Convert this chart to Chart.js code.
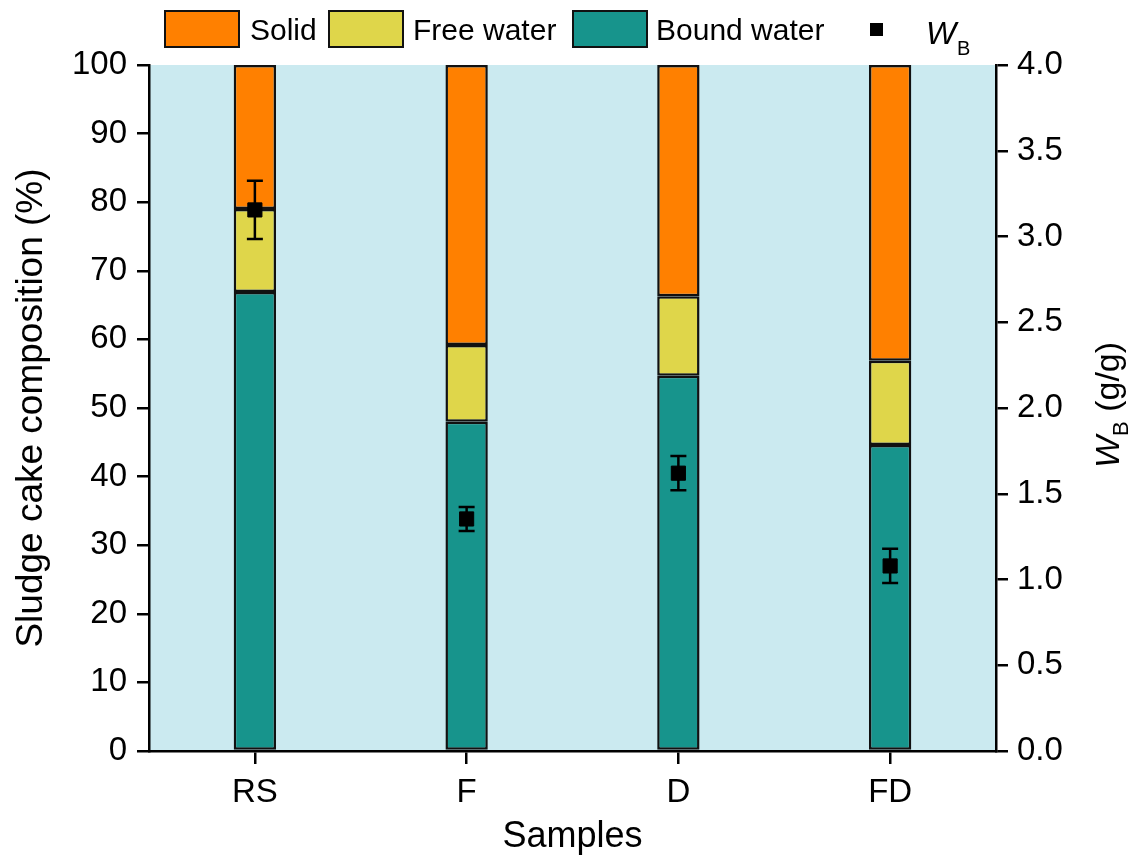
<!DOCTYPE html>
<html>
<head>
<meta charset="utf-8">
<title>Sludge cake composition</title>
<script src="https://cdn.jsdelivr.net/npm/chart.js@4.4.1/dist/chart.umd.min.js"></script>
<style>
  html, body { margin: 0; padding: 0; background: #fff; }
  #wrap { width: 1142px; height: 859px; }
</style>
</head>
<body>
<div id="wrap"><canvas id="grafico" width="1142" height="859"></canvas></div>
<script>
const categories = ["RS", "F", "D", "FD"];
const boundWater = [66.9, 48.0, 54.7, 44.6];
const freeWater = [12.1, 11.2, 11.6, 12.3];
const solid = [21.0, 40.8, 33.7, 43.1];
const wB = [3.155, 1.353, 1.62, 1.079];
const wBErr = [0.17, 0.07, 0.10, 0.10];
const leftTicks = [0, 10, 20, 30, 40, 50, 60, 70, 80, 90, 100];
const rightTicks = [0, 0.5, 1, 1.5, 2, 2.5, 3, 3.5, 4];

const FONT = "'Liberation Sans', Arial, sans-serif";
const colSolid = "#ff8000";
const colFree = "#dfd64a";
const colBound = "#17948c";
const colBg = "#cbeaf0";

// fondo del área de gráfico
const fondo = {
  id: "fondo",
  beforeDraw(chart) {
    const { ctx, chartArea: a } = chart;
    ctx.save();
    ctx.fillStyle = colBg;
    ctx.fillRect(a.left, a.top, a.right - a.left, a.bottom - a.top);
    ctx.restore();
  }
};

// barras de error para W_B
const errores = {
  id: "errores",
  afterDatasetsDraw(chart) {
    const { ctx } = chart;
    const x = chart.scales.x, y1 = chart.scales.y1;
    ctx.save();
    ctx.strokeStyle = "#000";
    ctx.lineWidth = 2.5;
    wB.forEach((v, i) => {
      const px = x.getPixelForValue(i);
      const top = y1.getPixelForValue(v + wBErr[i]);
      const bot = y1.getPixelForValue(v - wBErr[i]);
      ctx.beginPath();
      ctx.moveTo(px, top); ctx.lineTo(px, bot);
      ctx.moveTo(px - 8, top); ctx.lineTo(px + 8, top);
      ctx.moveTo(px - 8, bot); ctx.lineTo(px + 8, bot);
      ctx.stroke();
    });
    ctx.restore();
  }
};

// leyenda y título del eje derecho (con subíndice)
const extras = {
  id: "extras",
  afterDraw(chart) {
    const { ctx } = chart;
    ctx.save();
    ctx.textBaseline = "alphabetic";
    ctx.font = "30px " + FONT;
    ctx.fillStyle = "#000";
    const items = [
      { box: 165, text: 250, color: colSolid, label: "Solid" },
      { box: 329, text: 413, color: colFree, label: "Free water" },
      { box: 573, text: 656, color: colBound, label: "Bound water" }
    ];
    items.forEach(it => {
      ctx.fillStyle = it.color;
      ctx.fillRect(it.box, 11, 74, 36);
      ctx.strokeStyle = "#111";
      ctx.lineWidth = 2;
      ctx.strokeRect(it.box, 11, 74, 36);
      ctx.fillStyle = "#000";
      ctx.fillText(it.label, it.text, 40);
    });
    ctx.fillRect(870, 23, 13, 13);
    ctx.font = "italic 32px " + FONT;
    ctx.fillText("W", 926, 44);
    ctx.font = "20px " + FONT;
    ctx.fillText("B", 957, 55);

    // título eje derecho
    ctx.translate(1110, 405);
    ctx.rotate(-Math.PI / 2);
    ctx.textBaseline = "middle";
    const partW = "W", partB = "B", partU = " (g/g)";
    ctx.font = "italic 34px " + FONT;
    const wW = ctx.measureText(partW).width;
    ctx.font = "22px " + FONT;
    const wBw = ctx.measureText(partB).width;
    ctx.font = "34px " + FONT;
    const wU = ctx.measureText(partU).width;
    let sx = -(wW + wBw + wU) / 2;
    ctx.font = "italic 34px " + FONT;
    ctx.fillText(partW, sx, 0);
    sx += wW;
    ctx.font = "22px " + FONT;
    ctx.fillText(partB, sx, 12);
    sx += wBw;
    ctx.font = "34px " + FONT;
    ctx.fillText(partU, sx, 0);
    ctx.restore();
  }
};

const ctx = document.getElementById("grafico").getContext("2d");
const barBase = {
  type: "bar",
  yAxisID: "y",
  borderColor: "#111",
  borderWidth: 2.5,
  borderSkipped: false,
  barPercentage: 0.2,
  categoryPercentage: 1,
  order: 1
};

const chart = new Chart(ctx, {
  data: {
    labels: categories,
    datasets: [
      {
        type: "line",
        label: "WB",
        data: wB,
        yAxisID: "y1",
        showLine: false,
        pointStyle: "rect",
        pointRadius: 10,
        pointBackgroundColor: "#000",
        pointBorderColor: "#000",
        pointBorderWidth: 1,
        order: 0
      },
      Object.assign({}, barBase, { label: "Bound water", data: boundWater, backgroundColor: colBound }),
      Object.assign({}, barBase, { label: "Free water", data: freeWater, backgroundColor: colFree }),
      Object.assign({}, barBase, { label: "Solid", data: solid, backgroundColor: colSolid })
    ]
  },
  options: {
    responsive: false,
    animation: false,
    layout: { padding: { top: 65, left: 0, right: 0, bottom: 0 } },
    plugins: { legend: { display: false }, tooltip: { enabled: false } },
    scales: {
      x: {
        stacked: true,
        offset: true,
        afterFit: s => { s.height = 108; },
        grid: { offset: false, drawOnChartArea: false, drawTicks: true, tickLength: 13, color: "#000", lineWidth: 2.5 },
        border: { display: true, color: "#000", width: 2.5 },
        ticks: { color: "#000", font: { family: FONT, size: 33 }, padding: 9 },
        title: { display: true, text: "Samples", color: "#000", font: { family: FONT, size: 36 }, padding: { top: 0, bottom: 0 } }
      },
      y: {
        stacked: true,
        position: "left",
        min: 0,
        max: 100,
        afterFit: s => { s.width = 149; },
        afterBuildTicks: s => { s.ticks = leftTicks.map(v => ({ value: v })); },
        grid: { drawOnChartArea: false, drawTicks: true, tickLength: 12, color: "#000", lineWidth: 2.5 },
        border: { display: true, color: "#000", width: 2.5 },
        ticks: { color: "#000", font: { family: FONT, size: 33 }, padding: 10 },
        title: { display: true, text: "Sludge cake composition (%)", color: "#000", font: { family: FONT, size: 37 }, padding: { top: 10, bottom: 0 } }
      },
      y1: {
        position: "right",
        min: 0,
        max: 4,
        afterFit: s => { s.width = 146; },
        afterBuildTicks: s => { s.ticks = rightTicks.map(v => ({ value: v })); },
        grid: { drawOnChartArea: false, drawTicks: true, tickLength: 12, color: "#000", lineWidth: 2.5 },
        border: { display: true, color: "#000", width: 2.5 },
        ticks: { color: "#000", font: { family: FONT, size: 33 }, padding: 9, callback: v => Number(v).toFixed(1) }
      }
    }
  },
  plugins: [fondo, errores, extras]
});
</script>
</body>
</html>
